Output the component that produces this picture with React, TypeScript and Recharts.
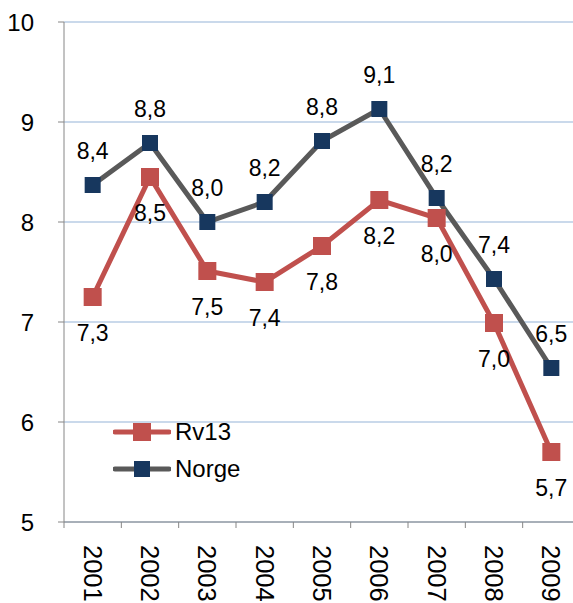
import { LineChart, Line, XAxis, YAxis, CartesianGrid, Legend, LabelList } from "recharts";

const years = ["2001", "2002", "2003", "2004", "2005", "2006", "2007", "2008", "2009"];
const rv13 = [7.25, 8.45, 7.51, 7.4, 7.76, 8.22, 8.04, 6.99, 5.7];
const norge = [8.37, 8.79, 8.0, 8.2, 8.81, 9.13, 8.24, 7.43, 6.54];
const rv13Labels = ["7,3", "8,5", "7,5", "7,4", "7,8", "8,2", "8,0", "7,0", "5,7"];
const norgeLabels = ["8,4", "8,8", "8,0", "8,2", "8,8", "9,1", "8,2", "7,4", "6,5"];
const yTicks = [5, 6, 7, 8, 9, 10];

const data = years.map((y, i) => ({
  year: y,
  rv13: rv13[i],
  norge: norge[i],
  rv13Label: rv13Labels[i],
  norgeLabel: norgeLabels[i],
}));

const FONT = "'Liberation Sans', Arial, sans-serif";
const RED = "#c0504d";
const GRAY = "#595959";
const NAVY = "#17375e";
const AXIS = "#868686";

const CHART_W = 580;
const CHART_H = 603;
const Y_W = 64;
const BAND = (CHART_W - Y_W) / years.length;

function square(size: number, fill: string) {
  return (props: any) => {
    const { cx, cy, index } = props;
    if (cx == null || cy == null) return <g key={index} />;
    return <rect key={index} x={cx - size / 2} y={cy - size / 2} width={size} height={size} fill={fill} />;
  };
}

function labelAt(dy: number) {
  return (props: any) => {
    const { x, y, value, index } = props;
    return (
      <text
        key={index}
        x={x}
        y={y + dy}
        textAnchor="middle"
        dominantBaseline="central"
        fontSize={23}
        fontFamily={FONT}
        fill="#000"
      >
        {value}
      </text>
    );
  };
}

function XTick(props: any) {
  const { x, y, payload, index } = props;
  const top = y - 8;
  const last = index === years.length - 1;
  return (
    <g>
      <line x1={x - BAND / 2} x2={x - BAND / 2} y1={top} y2={top + 6} stroke={AXIS} strokeWidth={1} />
      {last && <line x1={x + BAND / 2} x2={x + BAND / 2} y1={top} y2={top + 6} stroke={AXIS} strokeWidth={1} />}
      <text
        x={x}
        y={top + 23}
        transform={`rotate(90 ${x} ${top + 23})`}
        textAnchor="start"
        dominantBaseline="central"
        fontSize={25.5}
        fontFamily={FONT}
        fill="#000"
      >
        {payload.value}
      </text>
    </g>
  );
}

function LegendBox() {
  const items = [
    { name: "Rv13", color: RED, marker: RED, size: 18 },
    { name: "Norge", color: GRAY, marker: NAVY, size: 16 },
  ];
  return (
    <div style={{ fontFamily: FONT }}>
      {items.map((it) => (
        <div key={it.name} style={{ display: "flex", alignItems: "center", height: 37 }}>
          <svg width={58} height={20} style={{ marginRight: 4 }}>
            <line x1={2} x2={56} y1={10} y2={10} stroke={it.color} strokeWidth={5} strokeLinecap="round" />
            <rect x={29 - it.size / 2} y={10 - it.size / 2} width={it.size} height={it.size} fill={it.marker} />
          </svg>
          <span style={{ fontSize: 24, color: "#000" }}>{it.name}</span>
        </div>
      ))}
    </div>
  );
}

export default function App() {
  return (
    <div style={{ position: "absolute", left: 0, top: 0, width: 573, height: 603, overflow: "hidden", background: "#fff" }}>
      <LineChart width={CHART_W} height={CHART_H} data={data} margin={{ top: 22, right: 0, bottom: 0, left: 0 }}>
        <CartesianGrid vertical={false} stroke="#b9cde5" strokeWidth={1.5} />
        <XAxis
          dataKey="year"
          scale="band"
          height={81}
          axisLine={{ stroke: AXIS }}
          tickLine={false}
          tick={<XTick />}
          interval={0}
        />
        <YAxis
          width={Y_W}
          domain={[5, 10]}
          ticks={yTicks}
          axisLine={{ stroke: AXIS }}
          tickLine={{ stroke: AXIS }}
          tickSize={6}
          tickMargin={24}
          tick={{ fontSize: 24, fill: "#000", fontFamily: FONT }}
        />
        <Legend
          layout="vertical"
          align="center"
          verticalAlign="middle"
          content={<LegendBox />}
          wrapperStyle={{ left: 113, top: 413, width: 160 }}
        />
        <Line
          dataKey="rv13"
          stroke={RED}
          strokeWidth={5}
          dot={square(18, RED)}
          activeDot={false}
          isAnimationActive={false}
        >
          <LabelList dataKey="rv13Label" content={labelAt(36)} />
        </Line>
        <Line
          dataKey="norge"
          stroke={GRAY}
          strokeWidth={5}
          dot={square(16, NAVY)}
          activeDot={false}
          isAnimationActive={false}
        >
          <LabelList dataKey="norgeLabel" content={labelAt(-34)} />
        </Line>
      </LineChart>
    </div>
  );
}
